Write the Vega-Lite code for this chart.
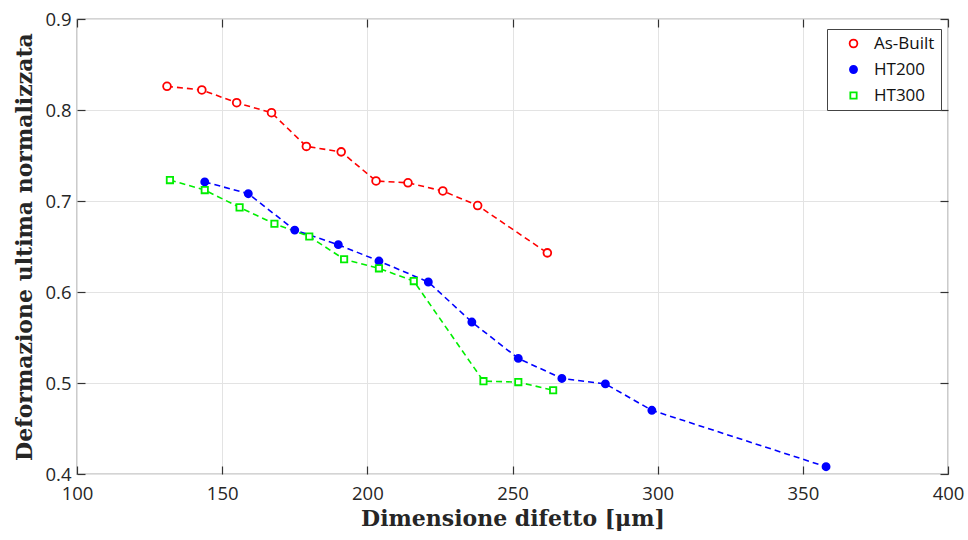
{
  "$schema": "https://vega.github.io/schema/vega-lite/v6.json",
  "width": 871,
  "height": 455,
  "autosize": "none",
  "padding": {"left": 77, "top": 19, "right": 20, "bottom": 66},
  "background": "white",
  "config": {
    "view": {"stroke": "#555555", "strokeWidth": 1.2},
    "axis": {
      "grid": true,
      "gridColor": "#e3e3e3",
      "gridWidth": 1,
      "domain": false,
      "tickColor": "#333333",
      "tickWidth": 1.2,
      "tickSize": -8,
      "labelFlush": false,
      "labelFont": "Open Sans",
      "labelFontSize": 18.5,
      "labelColor": "#262626",
      "titleFont": "DejaVu Serif",
      "titleFontWeight": "bold",
      "titleFontSize": 22,
      "titleColor": "#262626"
    },
    "legend": {
      "orient": "none",
      "legendX": 750,
      "legendY": 10,
      "labelFont": "Open Sans",
      "labelFontSize": 17,
      "labelColor": "#111111",
      "fillColor": "white",
      "strokeColor": "#444444",
      "padding": 6,
      "rowPadding": 8,
      "symbolStrokeWidth": 1.8,
      "symbolOffset": 12,
      "labelOffset": 12
    }
  },
  "data": {
    "values": [
      {"series": "As-Built", "d": 131, "e": 0.826},
      {"series": "As-Built", "d": 143, "e": 0.822},
      {"series": "As-Built", "d": 155, "e": 0.808},
      {"series": "As-Built", "d": 167, "e": 0.797},
      {"series": "As-Built", "d": 179, "e": 0.760},
      {"series": "As-Built", "d": 191, "e": 0.754},
      {"series": "As-Built", "d": 203, "e": 0.722},
      {"series": "As-Built", "d": 214, "e": 0.720},
      {"series": "As-Built", "d": 226, "e": 0.711},
      {"series": "As-Built", "d": 238, "e": 0.695},
      {"series": "As-Built", "d": 262, "e": 0.643},
      {"series": "HT200", "d": 144, "e": 0.721},
      {"series": "HT200", "d": 159, "e": 0.708},
      {"series": "HT200", "d": 175, "e": 0.668},
      {"series": "HT200", "d": 190, "e": 0.652},
      {"series": "HT200", "d": 204, "e": 0.634},
      {"series": "HT200", "d": 221, "e": 0.611},
      {"series": "HT200", "d": 236, "e": 0.567},
      {"series": "HT200", "d": 252, "e": 0.527},
      {"series": "HT200", "d": 267, "e": 0.505},
      {"series": "HT200", "d": 282, "e": 0.499},
      {"series": "HT200", "d": 298, "e": 0.470},
      {"series": "HT200", "d": 358, "e": 0.408},
      {"series": "HT300", "d": 132, "e": 0.723},
      {"series": "HT300", "d": 144, "e": 0.712},
      {"series": "HT300", "d": 156, "e": 0.693},
      {"series": "HT300", "d": 168, "e": 0.675},
      {"series": "HT300", "d": 180, "e": 0.661},
      {"series": "HT300", "d": 192, "e": 0.636},
      {"series": "HT300", "d": 204, "e": 0.626},
      {"series": "HT300", "d": 216, "e": 0.612},
      {"series": "HT300", "d": 240, "e": 0.502},
      {"series": "HT300", "d": 252, "e": 0.501},
      {"series": "HT300", "d": 264, "e": 0.492}
    ]
  },
  "resolve": {"axis": {"x": "independent", "y": "independent"}},
  "layer": [
    {
      "mark": {"type": "line", "strokeDash": [6, 4], "strokeWidth": 1.6},
      "encoding": {
        "x": {
          "field": "d", "type": "quantitative",
          "scale": {"domain": [100, 400], "nice": false, "zero": false},
          "axis": {"values": [100, 150, 200, 250, 300, 350, 400], "title": "Dimensione difetto  [μm]", "labelPadding": 18, "titlePadding": 6}
        },
        "y": {
          "field": "e", "type": "quantitative",
          "scale": {"domain": [0.4, 0.9], "nice": false, "zero": false},
          "axis": {"values": [0.4, 0.5, 0.6, 0.7, 0.8, 0.9], "format": ".1f", "title": "Deformazione ultima normalizzata", "labelPadding": 14, "titlePadding": 8}
        },
        "stroke": {
          "field": "series", "type": "nominal",
          "scale": {"domain": ["As-Built", "HT200", "HT300"], "range": ["#ff0000", "#0000ff", "#00ee00"]},
          "title": null
        },
        "detail": {"field": "series"}
      }
    },
    {
      "mark": {"type": "point", "strokeWidth": 1.8, "opacity": 1},
      "encoding": {
        "x": {
          "field": "d", "type": "quantitative",
          "axis": {"orient": "top", "values": [100, 150, 200, 250, 300, 350, 400], "labels": false, "grid": false, "title": null}
        },
        "y": {
          "field": "e", "type": "quantitative",
          "axis": {"orient": "right", "values": [0.4, 0.5, 0.6, 0.7, 0.8, 0.9], "labels": false, "grid": false, "title": null}
        },
        "shape": {
          "field": "series", "type": "nominal", "title": null,
          "scale": {"domain": ["As-Built", "HT200", "HT300"], "range": ["circle", "circle", "square"]}
        },
        "size": {
          "field": "series", "type": "nominal", "title": null,
          "scale": {"domain": ["As-Built", "HT200", "HT300"], "range": [60, 40, 52]}
        },
        "stroke": {
          "field": "series", "type": "nominal", "title": null
        },
        "fill": {
          "field": "series", "type": "nominal", "title": null,
          "scale": {"domain": ["As-Built", "HT200", "HT300"], "range": ["#ffffff", "#0000ff", "#ffffff"]}
        }
      }
    }
  ]
}
